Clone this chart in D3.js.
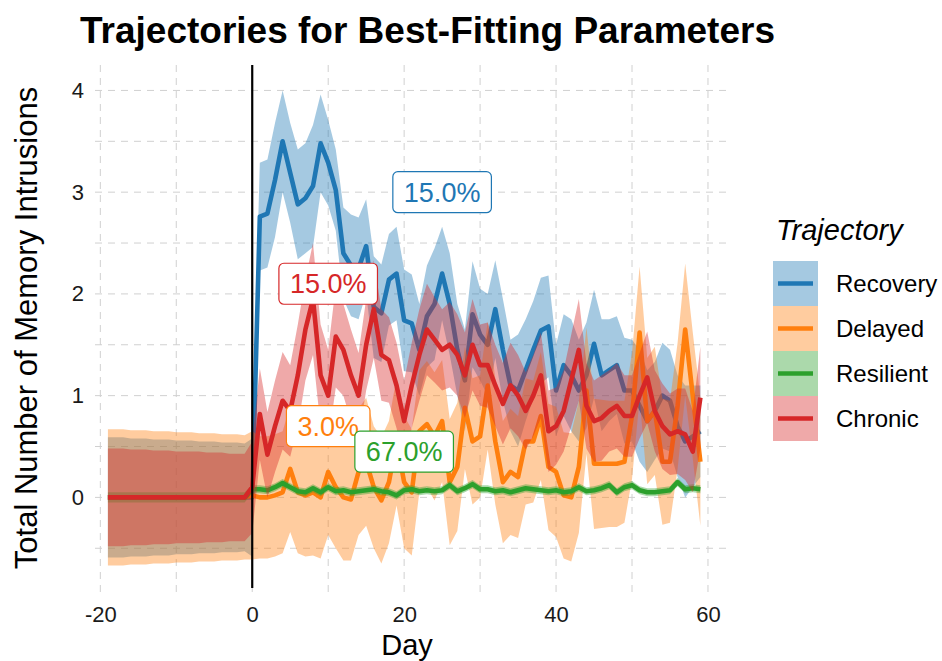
<!DOCTYPE html>
<html>
<head>
<meta charset="utf-8">
<script src="https://cdn.jsdelivr.net/npm/d3@7"></script>
<style>
  body { margin: 0; background: #fff; }
  svg { font-family: "Liberation Sans", Arial, sans-serif; }
</style>
</head>
<body>
<script>
// trajectories, in drawing / legend order
let trajectories = ["Recovery", "Delayed", "Resilient", "Chronic"]
let colors = ["#1f77b4", "#ff7f0e", "#2ca02c", "#d62728"]
let shares = ["15.0%", "3.0%", "67.0%", "15.0%"]
let labelDay = [25, 10, 20, 10]
let labelValue = [3, 0.7, 0.45, 2.1]

let xTicks = [-20, 0, 20, 40, 60]
let xMinor = [-10, 10, 30, 50]
let yTicks = [0, 1, 2, 3, 4]
let yMinor = [-0.5, 0.5, 1.5, 2.5, 3.5]

// baseline period, days -19 .. -1
let preDays = d3.range(-19, 0)
let preMean = [0,0,0,0,0,0,0,0,0,0,0,0,0,0,0,0,0,0,0]
let preHalf = {
  Recovery:  [0.59,0.59,0.59,0.58,0.58,0.58,0.57,0.57,0.57,0.56,0.56,0.56,0.55,0.55,0.55,0.54,0.54,0.54,0.53],
  Delayed:   [0.67,0.67,0.67,0.66,0.66,0.66,0.65,0.65,0.65,0.64,0.64,0.64,0.63,0.63,0.63,0.62,0.62,0.62,0.61],
  Resilient: [0.05,0.05,0.05,0.05,0.05,0.05,0.05,0.05,0.05,0.05,0.05,0.05,0.05,0.05,0.05,0.05,0.05,0.05,0.05],
  Chronic:   [0.48,0.48,0.48,0.47,0.47,0.47,0.46,0.46,0.46,0.45,0.45,0.45,0.45,0.44,0.44,0.44,0.43,0.43,0.43]
}

// after the event, days 0 .. 59
let postDays = d3.range(0, 60)
let recoveryMean = [0, 2.76,2.79,3.12,3.5,3.19,2.88,2.94,3.06,3.48,3.29,
  3.02,2.4,2.28,2.25,2.47,1.87,1.81,2.14,2.2,1.74,
  1.71,1.45,1.78,1.9,2.2,1.9,1.45,1.15,1.8,1.6,
  1.5,1.85,1.45,1.1,1.05,1.25,1.45,1.64,1.68,1.05,
  1.3,1.2,1.05,1.2,1.51,1.2,1.25,1.3,1.05,1.05,
  0.9,0.75,0.85,1.0,0.95,0.7,0.55,0.6,0.65]
let recoveryHalf = [0.58, 0.53,0.53,0.56,0.5,0.49,0.54,0.54,0.6,0.48,0.42,
  0.4,0.45,0.5,0.5,0.46,0.5,0.48,0.45,0.46,0.5,
  0.48,0.45,0.5,0.55,0.46,0.5,0.45,0.5,0.52,0.45,
  0.5,0.48,0.5,0.45,0.55,0.5,0.48,0.52,0.5,0.45,
  0.5,0.55,0.5,0.52,0.53,0.55,0.5,0.48,0.52,0.5,
  0.55,0.5,0.48,0.52,0.5,0.5,0.55,0.5,0.45]
let delayedMean = [0.02, 0,0,0.02,0.05,0.28,0.05,0.02,0.05,0,0.25,
  0.1,0,-0.02,0.25,0.35,0.1,-0.03,0.15,0.55,0.15,
  0.05,0.65,0.72,0.6,0.75,0.15,0.3,0.88,0.55,0.6,
  1.1,0.55,0.15,0.25,0.2,0.55,0.55,0.8,0.3,0.25,
  0.02,0,0.3,1.05,0.33,0.33,0.33,0.33,0.35,0.8,
  1.62,0.75,0.85,0.35,0.35,0.9,1.65,1.0,0.35]
let delayedHalf = [0.63, 0.6,0.6,0.6,0.6,0.62,0.6,0.6,0.62,0.6,0.62,
  0.6,0.62,0.6,0.62,0.63,0.6,0.62,0.6,0.63,0.65,
  0.62,0.6,0.62,0.63,0.6,0.62,0.63,0.6,0.62,0.6,
  0.63,0.62,0.6,0.62,0.6,0.62,0.6,0.63,0.62,0.64,
  0.62,0.63,0.65,0.62,0.64,0.63,0.62,0.62,0.6,0.62,
  0.65,0.62,0.63,0.62,0.6,0.62,0.65,0.62,0.63]
let resilientMean = [0.08, 0.08,0.07,0.1,0.14,0.1,0.06,0.05,0.09,0.05,0.1,
  0.06,0.07,0.05,0.06,0.07,0.08,0.06,0.05,0.02,0.07,
  0.08,0.06,0.07,0.06,0.07,0.12,0.06,0.09,0.13,0.08,
  0.08,0.06,0.07,0.05,0.07,0.09,0.08,0.07,0.06,0.07,
  0.05,0.06,0.1,0.06,0.07,0.09,0.12,0.05,0.1,0.12,
  0.07,0.05,0.05,0.06,0.07,0.15,0.08,0.09,0.08]
let resilientHalf = [0.04, 0.04,0.04,0.04,0.04,0.04,0.04,0.04,0.04,0.04,0.04,
  0.04,0.04,0.04,0.04,0.04,0.04,0.04,0.04,0.04,0.04,
  0.04,0.04,0.04,0.04,0.04,0.04,0.04,0.04,0.04,0.04,
  0.04,0.04,0.04,0.04,0.04,0.04,0.04,0.04,0.04,0.04,
  0.04,0.04,0.04,0.04,0.04,0.04,0.04,0.04,0.04,0.04,
  0.04,0.04,0.04,0.04,0.04,0.04,0.04,0.04,0.04]
let chronicMean = [0.1, 0.82,0.42,0.7,0.95,0.85,1.2,1.65,1.95,1.2,1.0,
  1.58,1.45,1.2,1.0,1.5,1.85,1.4,1.35,1.1,0.75,
  1.1,1.4,1.65,1.55,1.45,1.5,1.4,1.2,1.5,1.3,
  1.3,1.1,0.92,1.1,1.0,0.85,1.0,1.2,0.65,0.7,
  0.85,1.15,1.45,0.9,0.75,0.78,0.85,0.9,0.8,0.8,
  1.0,1.18,0.85,0.7,0.62,0.65,0.62,0.45,0.98]
let chronicHalf = [0.45, 0.45,0.42,0.45,0.48,0.45,0.5,0.5,0.55,0.5,0.45,
  0.5,0.45,0.45,0.42,0.45,0.48,0.45,0.42,0.42,0.4,
  0.42,0.45,0.45,0.42,0.4,0.42,0.4,0.42,0.45,0.4,
  0.42,0.4,0.4,0.42,0.4,0.38,0.4,0.42,0.4,0.38,
  0.4,0.45,0.5,0.42,0.4,0.42,0.4,0.42,0.4,0.4,
  0.42,0.45,0.4,0.42,0.4,0.42,0.45,0.4,0.5]

let postMean = { Recovery: recoveryMean, Delayed: delayedMean, Resilient: resilientMean, Chronic: chronicMean }
let postHalf = { Recovery: recoveryHalf, Delayed: delayedHalf, Resilient: resilientHalf, Chronic: chronicHalf }

let width = 942
let height = 661
let panel = { left: 95, right: 730, top: 65, bottom: 592 }

let series = trajectories.map((name, i) => {
  let days = preDays.concat(postDays)
  let mean = preMean.concat(postMean[name])
  let half = preHalf[name].concat(postHalf[name])
  return { name, color: colors[i], values: days.map((d, j) => ({ day: d, mean: mean[j], half: half[j] })) }
})

let x = d3.scaleLinear().domain([-20.7, 62.9]).range([panel.left, panel.right])
let y = d3.scaleLinear().domain([-0.93, 4.25]).range([panel.bottom, panel.top])

const svg = d3.select("body").append("svg")
    .attr("width", width)
    .attr("height", height)
    .attr("viewBox", [0, 0, width, height])

// grid
let grid = svg.append("g")
    .attr("stroke", "#d0d0d0")
    .attr("stroke-width", 1)
    .attr("stroke-dasharray", "7,6")
grid.selectAll(".gx")
  .data(xTicks.concat(xMinor))
  .join("line")
    .attr("x1", d => x(d)).attr("x2", d => x(d))
    .attr("y1", panel.top).attr("y2", panel.bottom)
grid.selectAll(".gy")
  .data(yTicks.concat(yMinor))
  .join("line")
    .attr("y1", d => y(d)).attr("y2", d => y(d))
    .attr("x1", panel.left).attr("x2", panel.right)

let area = d3.area()
    .x(d => x(d.day))
    .y0(d => y(d.mean - d.half))
    .y1(d => y(d.mean + d.half))

let line = d3.line()
    .x(d => x(d.day))
    .y(d => y(d.mean))

// ribbon then line, one trajectory after the other
let groups = svg.append("g")
  .selectAll("g")
  .data(series)
  .join("g")

groups.append("path")
    .attr("d", d => area(d.values))
    .attr("fill", d => d.color)
    .attr("fill-opacity", 0.4)

groups.append("path")
    .attr("d", d => line(d.values))
    .attr("fill", "none")
    .attr("stroke", d => d.color)
    .attr("stroke-width", 4.6)
    .attr("stroke-linejoin", "round")

// event line at day 0
svg.append("line")
    .attr("x1", x(0)).attr("x2", x(0))
    .attr("y1", panel.top).attr("y2", panel.bottom - 4)
    .attr("stroke", "#000")
    .attr("stroke-width", 2.2)

// axes
let plain = d => String(d)

svg.append("g")
    .attr("transform", `translate(0,${panel.bottom})`)
    .call(d3.axisBottom(x).tickValues(xTicks).tickFormat(plain).tickSize(0).tickPadding(14))
    .call(g => g.select(".domain").remove())
    .selectAll("text")
      .style("font-size", "22px")
      .attr("fill", "#1a1a1a")

svg.append("g")
    .attr("transform", `translate(${panel.left},0)`)
    .call(d3.axisLeft(y).tickValues(yTicks).tickFormat(plain).tickSize(0).tickPadding(11))
    .call(g => g.select(".domain").remove())
    .selectAll("text")
      .style("font-size", "22px")
      .attr("fill", "#1a1a1a")

svg.append("text")
    .text("Day")
    .attr("x", 407)
    .attr("y", 655)
    .attr("text-anchor", "middle")
    .style("font-size", "29px")

svg.append("text")
    .text("Total Number of Memory Intrusions")
    .attr("transform", "rotate(-90)")
    .attr("x", -328)
    .attr("y", 37)
    .attr("text-anchor", "middle")
    .style("font-size", "31px")

svg.append("text")
    .text("Trajectories for Best-Fitting Parameters")
    .attr("x", 80)
    .attr("y", 43)
    .style("font-size", "37px")
    .style("font-weight", "bold")

// percentage labels
let labels = svg.append("g")
  .selectAll("g")
  .data(series)
  .join("g")
    .attr("transform", (d, i) => `translate(${x(labelDay[i])},${y(labelValue[i])})`)

labels.append("text")
    .text((d, i) => shares[i])
    .attr("text-anchor", "middle")
    .attr("dy", "0.36em")
    .attr("fill", d => d.color)
    .style("font-size", "27px")

labels.each(function (d) {
  let g = d3.select(this)
  let b = g.select("text").node().getBBox()
  g.insert("rect", "text")
    .attr("x", b.x - 11)
    .attr("y", -20.5)
    .attr("width", b.width + 22)
    .attr("height", 41)
    .attr("rx", 5)
    .attr("fill", "#fff")
    .attr("stroke", d.color)
    .attr("stroke-width", 1.2)
})

// legend
let legend = svg.append("g").attr("transform", "translate(773,261)")

legend.append("text")
    .text("Trajectory")
    .attr("x", 3)
    .attr("y", -21)
    .style("font-size", "29px")
    .style("font-style", "italic")

let keys = legend.selectAll(".key")
  .data(series)
  .join("g")
    .attr("transform", (d, i) => `translate(0,${i * 45})`)

keys.append("rect")
    .attr("width", 45)
    .attr("height", 45)
    .attr("fill", d => d.color)
    .attr("fill-opacity", 0.4)

keys.append("line")
    .attr("x1", 5).attr("x2", 40)
    .attr("y1", 22.5).attr("y2", 22.5)
    .attr("stroke", d => d.color)
    .attr("stroke-width", 4.6)

keys.append("text")
    .text(d => d.name)
    .attr("x", 63)
    .attr("y", 22.5)
    .attr("dy", "0.36em")
    .style("font-size", "24px")
</script>
</body>
</html>
